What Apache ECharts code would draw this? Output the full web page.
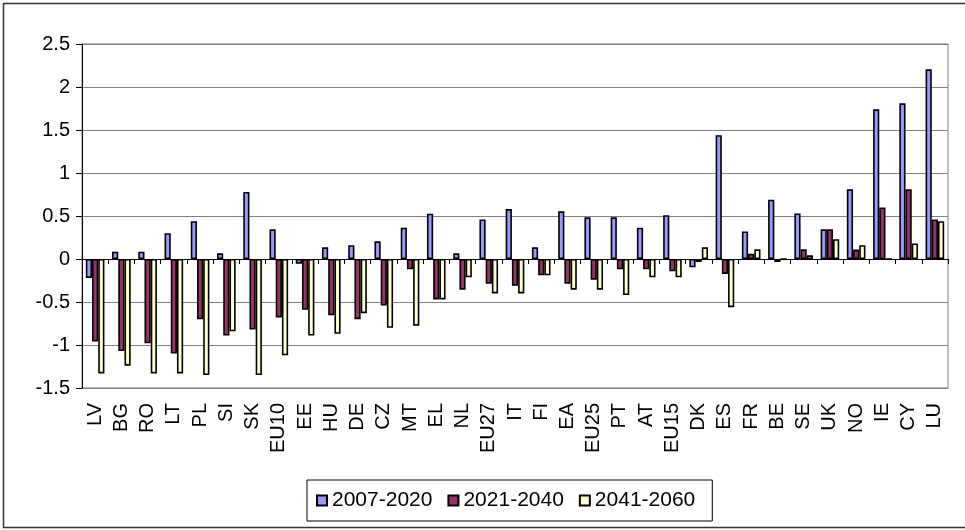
<!DOCTYPE html>
<html>
<head>
<meta charset="utf-8">
<script src="https://cdn.jsdelivr.net/npm/echarts@6/dist/echarts.min.js"></script>
<style>
html,body{margin:0;padding:0;background:#fff;}
#chart{width:965px;height:530px;}
</style>
</head>
<body>
<div id="chart"></div>
<script>
const categories = ['LV','BG','RO','LT','PL','SI','SK','EU10','EE','HU','DE','CZ','MT','EL','NL','EU27','IT','FI','EA','EU25','PT','AT','EU15','DK','ES','FR','BE','SE','UK','NO','IE','CY','LU'];
const seriesNames = ['2007-2020','2021-2040','2041-2060'];
const s2007 = [-0.22,0.085,0.085,0.30,0.44,0.066,0.78,0.345,-0.054,0.136,0.16,0.205,0.364,0.527,0.066,0.46,0.58,0.136,0.554,0.485,0.485,0.364,0.51,-0.097,1.44,0.32,0.69,0.53,0.345,0.81,1.74,1.81,2.205];
const s2021 = [-0.96,-1.07,-0.98,-1.10,-0.70,-0.89,-0.82,-0.68,-0.59,-0.655,-0.70,-0.54,-0.12,-0.47,-0.357,-0.287,-0.31,-0.19,-0.287,-0.24,-0.12,-0.12,-0.143,-0.035,-0.174,0.062,-0.035,0.112,0.345,0.11,0.60,0.81,0.46];
const s2041 = [-1.33,-1.24,-1.33,-1.33,-1.35,-0.84,-1.35,-1.12,-0.89,-0.87,-0.63,-0.80,-0.775,-0.47,-0.213,-0.40,-0.40,-0.19,-0.357,-0.357,-0.42,-0.213,-0.213,0.136,-0.56,0.112,0,0.043,0.23,0.16,0,0.18,0.44];
const colors = ['#9999FF','#993366','#FFFFCC'];
const FONT = '"Liberation Sans", Arial, sans-serif';

const chart = echarts.init(document.getElementById('chart'));
const mk = (name, data, color) => ({
  name: name, type: 'bar', data: data, xAxisIndex: 0,
  barGap: '0%', barCategoryGap: '29%',
  itemStyle: { color: color, borderColor: '#000', borderWidth: 1.6 }
});
chart.setOption({
  animation: false,
  backgroundColor: '#fff',
  textStyle: { fontFamily: FONT },
  grid: { left: 82, right: 17, top: 44, bottom: 142, show: true, borderColor: '#808080', borderWidth: 1 },
  legend: {
    left: 307, top: 480,
    data: seriesNames,
    icon: 'rect', itemWidth: 10, itemHeight: 10, itemGap: 15, itemTextGap: 11,
    borderColor: '#000', borderWidth: 1, padding: [10, 17, 10, 9],
    textStyle: { fontSize: 21, color: '#000', fontFamily: FONT }
  },
  xAxis: [
    {
      type: 'category', data: categories, position: 'bottom',
      axisLine: { show: false, onZero: false }, axisTick: { show: false },
      axisLabel: { rotate: 90, interval: 0, margin: 15, fontSize: 20, color: '#000', fontFamily: FONT }
    },
    {
      type: 'category', data: categories, position: 'bottom',
      axisLine: { show: true, onZero: true, lineStyle: { color: '#000', width: 1 } },
      axisTick: { show: true, length: 5, interval: 0, lineStyle: { color: '#000' } },
      axisLabel: { show: false }
    }
  ],
  yAxis: {
    type: 'value', min: -1.5, max: 2.5, interval: 0.5,
    axisLine: { show: true, lineStyle: { color: '#000', width: 1 } },
    axisTick: { show: true, length: 6, lineStyle: { color: '#000' } },
    axisLabel: { fontSize: 20, color: '#000', margin: 12, fontFamily: FONT },
    splitLine: { show: true, lineStyle: { color: '#808080', width: 1 } }
  },
  graphic: [{
    type: 'rect', silent: true, z: -1,
    shape: { x: 3.5, y: 3.5, width: 975, height: 524 },
    style: { fill: null, stroke: '#333', lineWidth: 1.5 }
  }],
  series: [mk(seriesNames[0], s2007, colors[0]), mk(seriesNames[1], s2021, colors[1]), mk(seriesNames[2], s2041, colors[2])]
});
</script>
</body>
</html>
